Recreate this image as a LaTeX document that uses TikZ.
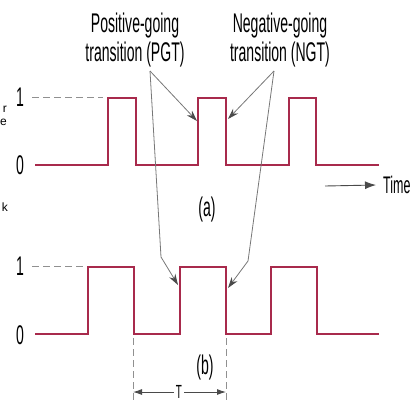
\documentclass[tikz,border=0pt]{standalone}
\usepackage{fontspec}
\setmainfont{Liberation Sans}
\newfontfamily\condfont{Liberation Sans}[FakeStretch=0.52]
\usetikzlibrary{arrows.meta,positioning}
\definecolor{Wave}{HTML}{A82A4C}
\definecolor{Pointer}{HTML}{4A4A4A}
\definecolor{Guide}{HTML}{909090}

\begin{document}
\begin{tikzpicture}[x=1pt,y=-1pt,
    wave/.style={Wave,line width=2.4pt,line join=miter},
    pointer/.style={Pointer!75,line width=0.8pt,-{Stealth[length=11pt,width=7pt,color=Pointer]}},
    guide/.style={Guide,line width=1pt,dash pattern=on 7pt off 4pt},
    dimarrow/.style={Pointer,line width=0.9pt,-{Latex[length=9pt,width=6pt]}},
    lbl/.style={font=\condfont\fontsize{27}{29}\selectfont,align=center,inner sep=0pt},
    small/.style={font=\condfont\fontsize{19}{22}\selectfont,inner sep=2pt},
    frag/.style={font=\fontsize{12}{12}\selectfont,inner sep=0pt,anchor=east,align=right}
  ]
  \useasboundingbox (0,0) rectangle (419,402);
  % cut-off text at the left edge
  \node[frag] (fr) at (7,109) {r};
  \node[frag] (fe) at (7,122) {e};
  \node[frag] (fk) at (8,207) {k};
  % labels
  \node[lbl] (pgt) at (135,40) {Positive-going\\transition (PGT)};
  \node[lbl] (ngt) at (280,40) {Negative-going\\transition (NGT)};
  \node[lbl] (onea) at (20,97) {1};
  \node[lbl] (zeroa) at (20,165) {0};
  \node[lbl] (oneb) at (20,266) {1};
  \node[lbl] (zerob) at (20,335) {0};
  \node[lbl] (capa) at (207,210) {(a)};
  \node[lbl] (capb) at (205,368) {(b)};
  \node[lbl,font=\condfont\fontsize{24}{26}\selectfont,anchor=west] (time) at (383,185) {Time};
  % waveform (a)
  \draw[wave] (35,165) -| (108,98) -| (136,165) -| (198,98) -| (226,165)
    -| (289,98) -| (316,165) -- (379,165);
  % waveform (b)
  \draw[wave] (35,334) -| (88,267) -| (134,334) -| (180,267) -| (226,334)
    -| (271,267) -| (317,334) -- (379,334);
  % level guides
  \draw[guide] (onea.east) ++(8,0) -- (103,97);
  \draw[guide] (oneb.east) ++(8,0) -- (83,266);
  % time arrow
  \coordinate (tstart) at (325,186);
  \draw[Pointer,line width=0.9pt,-{Latex[length=11pt,width=8pt]}] (tstart) -- ([xshift=-7pt]time.west);
  % pointers to the edges
  \coordinate (pgtapex) at (150,71);
  \coordinate (ngtapex) at (274,71);
  \coordinate (pgtkink) at (161,257);
  \coordinate (ngtkink) at (248,261);
  \coordinate (pgta) at (197,121);
  \coordinate (ngta) at (228,119);
  \coordinate (pgtb) at (178,285);
  \coordinate (ngtb) at (228,288);
  \draw[pointer] (pgtapex) -- (pgta);
  \draw[pointer] (pgtapex) -- (pgtkink) -- (pgtb);
  \draw[pointer] (ngtapex) -- (ngta);
  \draw[pointer] (ngtapex) -- (ngtkink) -- (ngtb);
  % period T
  \coordinate (tleft) at (133,392);
  \coordinate (tright) at (226,392);
  \draw[guide] (133,338) -- (133,401);
  \draw[guide] (226,338) -- (226,401);
  \node[small] (per) at (179,392) {T};
  \draw[dimarrow] (per.west) -- (tleft);
  \draw[dimarrow] (per.east) -- (tright);
\end{tikzpicture}
\end{document}
